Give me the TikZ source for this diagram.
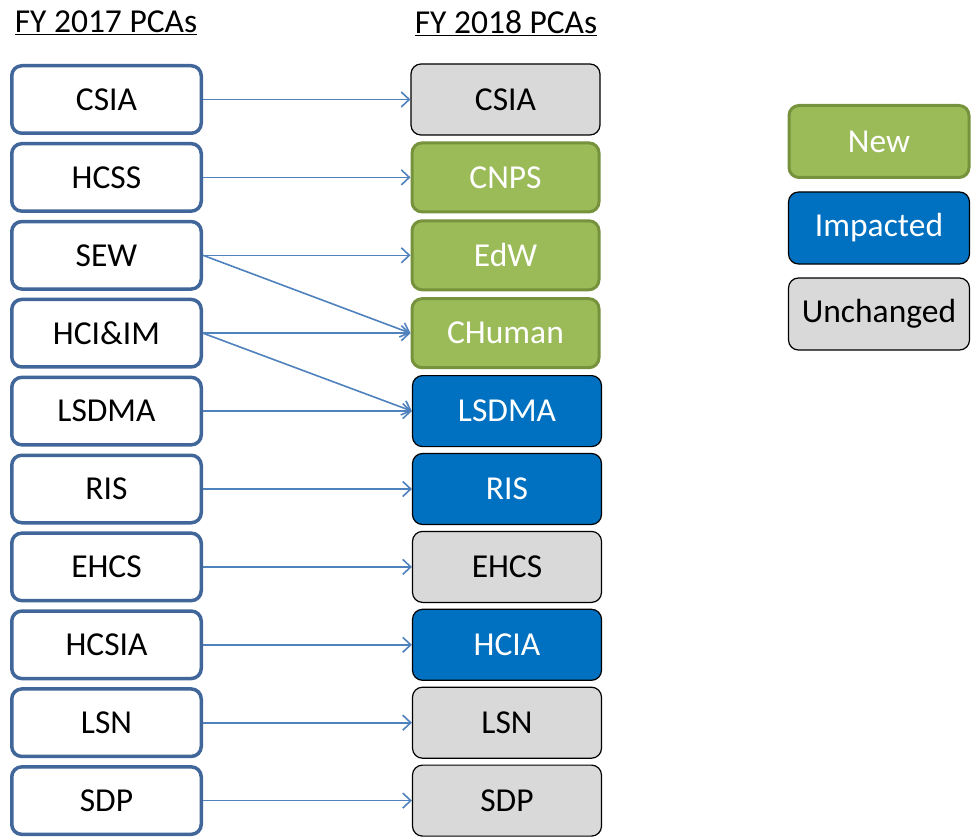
\documentclass[tikz,border=0pt]{standalone}
\usepackage{fontspec}
\setmainfont{Carlito}
\usetikzlibrary{arrows.meta}
\definecolor{leftedge}{HTML}{41669A}
\definecolor{arrowc}{HTML}{4F81BD}
\definecolor{greenfill}{HTML}{9BBB59}
\definecolor{greenedge}{HTML}{76923C}
\definecolor{bluefill}{HTML}{0070C0}
\definecolor{grayfill}{HTML}{D9D9D9}
\tikzset{
  base/.style={rounded corners=10pt, align=center, inner sep=0pt,
    font=\fontsize{33.5}{40}\selectfont},
  oldbox/.style={base, draw=leftedge, line width=3.5pt, fill=white,
    minimum width=189.5pt, minimum height=67.5pt},
  newbox/.style={base, draw=greenedge, line width=3pt, fill=greenfill,
    text=white, minimum width=187pt, minimum height=69pt},
  impbox/.style={base, draw=black, line width=1.2pt, fill=bluefill,
    text=white, minimum width=189pt, minimum height=71pt},
  unbox/.style={base, draw=black, line width=1.2pt, fill=grayfill,
    text=black, minimum width=189pt, minimum height=71pt},
  link/.style={draw=arrowc, line width=1.6pt,
    -{Straight Barb[length=8pt,width=15pt,line width=1.6pt]}},
  header/.style={font=\fontsize{33.5}{40}\selectfont, inner sep=0pt}
}
\begin{document}
\begin{tikzpicture}[x=1pt,y=-1pt]
\useasboundingbox (0,0) rectangle (971,837);
\node[header] (h1) at (106,23) {\underline{FY 2017 PCAs}};
\node[header] (h2) at (506,23) {\underline{FY 2018 PCAs}};
% left column
\node[oldbox] (l1) at (106.5,99.5) {CSIA};
\node[oldbox] (l2) at (106.5,177.4) {HCSS};
\node[oldbox] (l3) at (106.5,255.3) {SEW};
\node[oldbox] (l4) at (106.5,333.2) {HCI\&IM};
\node[oldbox] (l5) at (106.5,411.1) {LSDMA};
\node[oldbox] (l6) at (106.5,489.0) {RIS};
\node[oldbox] (l7) at (106.5,566.9) {EHCS};
\node[oldbox] (l8) at (106.5,644.8) {HCSIA};
\node[oldbox] (l9) at (106.5,722.7) {LSN};
\node[oldbox] (l10) at (106.5,800.6) {SDP};
% right column
\node[unbox] (r1) at (505.5,99.5) {CSIA};
\node[newbox] (r2) at (505.5,177.4) {CNPS};
\node[newbox] (r3) at (505.5,255.3) {EdW};
\node[newbox] (r4) at (505.5,333.2) {CHuman};
\node[impbox] (r5) at (507,411.1) {LSDMA};
\node[impbox] (r6) at (507,489.0) {RIS};
\node[unbox] (r7) at (507,566.9) {EHCS};
\node[impbox] (r8) at (507,644.8) {HCIA};
\node[unbox] (r9) at (507,722.7) {LSN};
\node[unbox] (r10) at (507,800.6) {SDP};
% legend
\node[newbox, minimum width=180pt, minimum height=72pt] (g1) at (879,141.5) {New};
\node[impbox, minimum width=181pt, minimum height=72pt] (g2) at (879,228) {Impacted};
\node[unbox, minimum width=181pt, minimum height=72pt] (g3) at (879,314) {Unchanged};
% connectors
\draw[link] (l1.east) -- (r1.west);
\draw[link] (l2.east) -- (r2.west);
\draw[link] (l3.east) -- (r3.west);
\draw[link] (l3.east) -- (r4.west);
\draw[link] (l4.east) -- (r4.west);
\draw[link] (l4.east) -- (r5.west);
\draw[link] (l5.east) -- (r5.west);
\draw[link] (l6.east) -- (r6.west);
\draw[link] (l7.east) -- (r7.west);
\draw[link] (l8.east) -- (r8.west);
\draw[link] (l9.east) -- (r9.west);
\draw[link] (l10.east) -- (r10.west);
\end{tikzpicture}
\end{document}
